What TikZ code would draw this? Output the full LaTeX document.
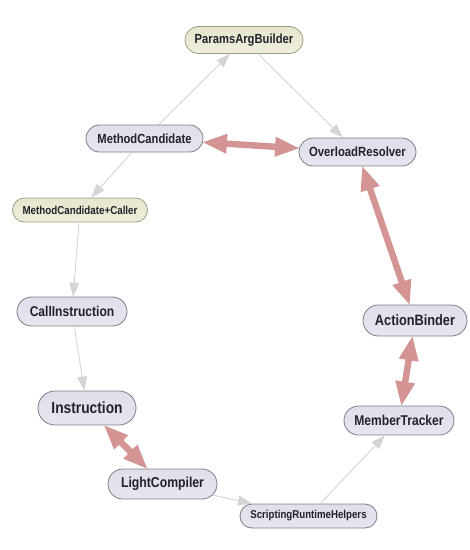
\documentclass[tikz,border=0pt]{standalone}
\usepackage{fontspec}
\setmainfont{Liberation Sans}
\newfontfamily\labelfont[FakeStretch=0.85]{Liberation Sans}
\usetikzlibrary{arrows.meta,shapes.misc}
\definecolor{classtop}{HTML}{DFDFEA}
\definecolor{classmid}{HTML}{F3F3F8}
\definecolor{classbottom}{HTML}{E6E6EF}
\definecolor{classdraw}{HTML}{7C7C8A}
\definecolor{structtop}{HTML}{E6E6CF}
\definecolor{structmid}{HTML}{F7F7EA}
\definecolor{structbottom}{HTML}{EEEEDA}
\definecolor{structdraw}{HTML}{9C9C86}
\definecolor{deplink}{HTML}{D4D4D4}
\definecolor{mutuallink}{HTML}{D49494}
\definecolor{labeltext}{HTML}{22222E}
\tikzset{
  classnode/.style={rounded rectangle, draw=classdraw, top color=classtop, middle color=classmid,
    bottom color=classbottom, line width=0.8pt, text=labeltext, inner sep=0pt},
  structnode/.style={classnode, draw=structdraw, top color=structtop, middle color=structmid,
    bottom color=structbottom},
  dep/.style={draw=deplink, line width=0.9pt, -{Triangle[length=14pt,width=10pt]}},
  mutual/.style={draw=mutuallink, line width=6.5pt,
    {Triangle[length=25pt,width=18pt]}-{Triangle[length=25pt,width=18pt]}, shorten <=-1pt, shorten >=-1pt}
}
\newcommand{\lab}[1]{\labelfont\bfseries\fontsize{#1}{#1}\selectfont}

\begin{document}
\begin{tikzpicture}[x=1pt,y=-1pt]
        % frame of the picture
        \useasboundingbox (0,0) rectangle (470,550);
        % the classes
        \node[structnode, minimum width=118pt, minimum height=27pt, font=\lab{13.2}] (params) at (244,40) {ParamsArgBuilder};
        \node[classnode, minimum width=117pt, minimum height=27pt, font=\lab{13.2}] (candidate) at (144.5,138.5) {MethodCandidate};
        \node[classnode, minimum width=117pt, minimum height=28pt, font=\lab{13.3}] (resolver) at (357.5,152) {OverloadResolver};
        \node[structnode, minimum width=135pt, minimum height=24pt, font=\lab{11.5}] (caller) at (80,210) {MethodCandidate+Caller};
        \node[classnode, minimum width=110pt, minimum height=29pt, font=\lab{14.2}] (callinstr) at (72,311.5) {CallInstruction};
        \node[classnode, minimum width=98pt, minimum height=34pt, font=\lab{16.2}] (instr) at (87,408) {Instruction};
        \node[classnode, minimum width=104pt, minimum height=31pt, font=\lab{15}] (binder) at (415,320.5) {ActionBinder};
        \node[classnode, minimum width=110pt, minimum height=29pt, font=\lab{14.2}] (tracker) at (399,420.5) {MemberTracker};
        \node[classnode, minimum width=109pt, minimum height=30pt, font=\lab{14.4}] (compiler) at (162.5,484) {LightCompiler};
        \node[classnode, minimum width=137pt, minimum height=24pt, font=\lab{11.4}] (helpers) at (308.5,516) {ScriptingRuntimeHelpers};
        % one way links
        \draw[dep] (candidate) -- (params);
        \draw[dep] (params) -- (resolver);
        \draw[dep] (candidate) -- (caller);
        \draw[dep] (caller) -- (callinstr);
        \draw[dep] (callinstr) -- (instr);
        \draw[dep] (compiler) -- (helpers);
        \draw[dep] (helpers) -- (tracker);
        % two way links
        \draw[mutual] (candidate) -- (resolver);
        \draw[mutual] (resolver) -- (binder);
        \draw[mutual] (binder) -- (tracker);
        \draw[mutual] (instr) -- (compiler);
\end{tikzpicture}
\end{document}
